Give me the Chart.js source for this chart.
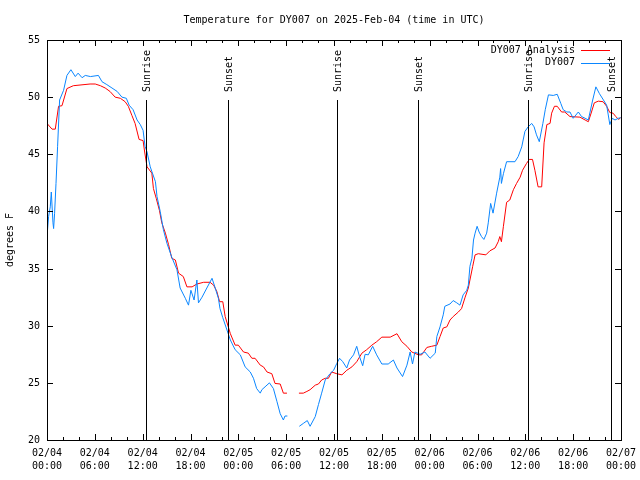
<!DOCTYPE html>
<html>
<head>
<meta charset="utf-8">
<script src="https://cdn.jsdelivr.net/npm/chart.js@4.4.1/dist/chart.umd.min.js"></script>
<style>
  html, body { margin: 0; background: #fff; }
</style>
</head>
<body>
<canvas id="chart" width="640" height="480"></canvas>
<script>
// hours since 02/04 00:00 UTC
const analysisHours = [0.0, 0.63, 1.04, 1.45, 1.88, 2.5, 3.3, 5.4, 6.05, 6.7, 7.3, 7.9, 8.55, 9.2, 9.8,
  10.2, 10.65, 11.05, 11.55, 12.05, 12.25, 12.55, 13.15, 13.35, 13.7, 14.1, 14.4, 14.85, 15.25, 15.65,
  16.1, 16.5, 17.1, 17.55, 18.2, 18.8, 19.65, 20.45, 20.9, 21.3, 21.65, 22.05, 22.35, 23.0, 23.6, 24.0,
  24.65, 25.25, 25.7, 26.1, 26.75, 27.15, 27.6, 28.2, 28.6, 29.25, 29.65, 30.1, 30.8, 31.6, 32.15, 32.6,
  33.0, 33.65, 34.05, 34.45, 34.9, 35.3, 35.7, 36.35, 37.0, 37.6, 38.25, 38.85, 39.5, 40.1, 40.75, 41.35,
  42.0, 43.05, 43.9, 44.5, 45.15, 45.75, 46.6, 47.0, 47.65, 48.25, 48.9, 49.3, 49.7, 50.15, 50.55, 50.95,
  51.6, 52.0, 52.45, 52.85, 53.05, 53.4, 53.7, 54.1, 55.05, 55.55, 56.2, 56.6, 56.8, 57.0, 57.25, 57.65,
  58.05, 58.5, 58.9, 59.35, 59.65, 60.15, 60.5, 60.9, 61.2, 61.6, 62.05, 62.35, 62.7, 63.1, 63.3, 63.65,
  64.0, 64.55, 64.95, 65.6, 66.85, 67.5, 67.9, 68.3, 68.65, 69.15, 69.75, 70.2, 70.6, 71.0, 71.35, 71.7, 71.95];
const analysisTemps = [47.7, 47.2, 47.2, 49.2, 49.25, 50.75, 51.0, 51.15, 51.15, 51.0, 50.8, 50.5, 50.0, 49.9, 49.6,
  49.2, 48.4, 47.7, 46.3, 46.2, 45.2, 43.9, 43.35, 42.0, 41.15, 40.1, 39.0, 38.1, 37.1, 35.9,
  35.75, 34.6, 34.3, 33.4, 33.4, 33.65, 33.8, 33.8, 33.55, 33.0, 32.1, 32.1, 30.8, 29.3, 28.3, 28.3,
  27.7, 27.6, 27.15, 27.15, 26.55, 26.4, 25.95, 25.8, 24.95, 24.9, 24.1, 24.1, null, 24.1, 24.1, 24.25,
  24.4, 24.8, 24.9, 25.25, 25.4, 25.4, 25.95, 25.8, 25.7, 26.1, 26.4, 26.85, 27.6, 27.9, 28.3, 28.6,
  29.0, 29.0, 29.3, 28.6, 28.2, 27.7, 27.45, 27.45, 28.1, 28.2, 28.3, 29.05, 29.8, 29.9, 30.5, 30.8,
  31.2, 31.5, 32.5, 33.3, 34.0, 35.2, 36.2, 36.3, 36.2, 36.55, 36.8, 37.35, 37.8, 37.35, 38.7, 40.8,
  41.0, 41.9, 42.45, 43.0, 43.6, 44.2, 44.55, 44.55, 43.6, 42.15, 42.15, 46.0, 47.6, 47.7, 48.6, 49.2,
  49.2, 48.7, 48.7, 48.3, 48.25, 48.0, 47.85, 48.7, 49.5, 49.65, 49.6, 49.2, 48.65, 48.6, 48.3, 48.05, 48.2];

const stationHours = [0.0, 0.2, 0.41, 0.54, 0.75, 0.83, 0.95, 1.13, 1.33, 1.58, 2.08, 2.5, 3.0, 3.55, 3.9,
  4.4, 4.8, 5.45, 6.45,
  6.9, 7.5, 8.15, 8.8, 9.4, 9.95, 10.3, 10.8, 11.3, 11.7, 12.05, 12.3, 12.55, 12.95, 13.6, 13.8, 14.2,
  14.6, 15.05, 15.65, 16.3, 16.7, 17.35, 17.75, 18.05, 18.45, 18.8, 19.0, 19.45, 20.05, 20.7, 21.1, 21.5,
  21.7, 22.05, 23.0, 23.6, 24.25, 24.85, 25.5, 25.9, 26.3, 26.75, 26.95, 27.35, 27.9, 28.4, 28.85, 29.25,
  29.65, 29.85, 30.15, 30.9, 31.65, 32.15, 32.65, 33.0, 33.65, 34.05, 34.45, 34.9, 35.5, 35.95, 36.35,
  36.7, 37.1, 37.6, 37.95, 38.45, 38.85, 39.2, 39.6, 39.9, 40.3, 40.85, 41.35, 42.0, 42.8, 43.45, 43.9,
  44.6, 45.15, 45.55, 45.85, 46.15, 46.8, 47.4, 48.05, 48.7, 48.9, 49.3, 49.7, 49.9, 50.55, 50.95, 51.4,
  51.8, 52.2, 52.65, 52.85, 53.05, 53.3, 53.5, 53.7, 53.95, 54.2, 54.5, 54.8, 55.15, 55.35, 55.65, 55.95,
  56.4, 56.8, 56.9, 57.0, 57.25, 57.65, 58.7, 59.1, 59.55, 59.95, 60.35, 60.8, 61.1, 61.4, 61.75, 62.2,
  62.5, 62.9, 63.5, 64.0, 64.45, 64.75, 65.2, 65.6, 66.0, 66.65, 67.05, 67.5, 67.9, 68.45, 68.85, 69.3,
  69.8, 70.2, 70.6, 70.9, 71.25, 71.65, 71.95];
const stationTemps = [37.8, 39.55, 40.4, 41.7, 39.0, 38.5, 39.8, 42.45, 45.7, 49.75, 50.6, 51.9, 52.4, 51.8, 52.1,
  51.7, 51.9, 51.8, 51.9,
  51.35, 51.1, 50.8, 50.5, 50.0, 49.9, 49.3, 48.9, 48.0, 47.6, 47.1, 45.7, 45.2, 43.9, 42.6, 41.3, 40.0,
  38.4, 37.2, 36.0, 34.9, 33.3, 32.4, 31.8, 33.1, 32.25, 34.0, 32.0, 32.5, 33.3, 34.15, 33.3, 32.4,
  31.5, 30.7, 28.75, 27.9, 27.45, 26.4, 25.95, 25.4, 24.5, 24.1, 24.4, 24.65, 25.0, 24.5, 23.35, 22.3,
  21.75, 22.1, 22.1, null, 21.2, 21.45, 21.7, 21.2, 22.05, 23.1, 24.1, 25.25, 25.8, 26.1, 26.7,
  27.15, 26.85, 26.3, 27.0, 27.45, 28.2, 27.3, 26.5, 27.5, 27.45, 28.2, 27.45, 26.65, 26.65, 27.0, 26.3,
  25.55, 26.55, 27.7, 26.65, 27.7, 27.5, 27.7, 27.15, 27.6, 29.05, 29.9, 30.95, 31.7, 31.9, 32.2, 32.0,
  31.8, 32.7, 33.1, 33.55, 35.2, 35.9, 37.5, 38.1, 38.7, 38.2, 37.8, 37.55, 38.1, 39.0, 40.7, 39.85,
  41.6, 43.0, 43.75, 42.45, 43.3, 44.35, 44.35, 44.8, 45.65, 47.0, 47.4, 47.7, 47.4, 46.7, 46.1, 47.7,
  48.9, 50.2, 50.15, 50.25, 49.45, 48.9, 48.7, 48.7, 48.15, 48.7, 48.3, 48.15, 48.0, 49.75, 50.9, 50.3,
  49.75, 49.3, 47.6, 48.15, 48.0, 48.15, 48.2];

const sunHours = [12.36, 22.7, 36.43, 46.58, 60.37, 70.7];
const sunLabels = ['Sunrise', 'Sunset', 'Sunrise', 'Sunset', 'Sunrise', 'Sunset'];

const xTickHours = [0, 6, 12, 18, 24, 30, 36, 42, 48, 54, 60, 66, 72];
const xTickDays = ['02/04', '02/04', '02/04', '02/04', '02/05', '02/05', '02/05', '02/05',
  '02/06', '02/06', '02/06', '02/06', '02/07'];
const xTickTimes = ['00:00', '06:00', '12:00', '18:00', '00:00', '06:00', '12:00', '18:00',
  '00:00', '06:00', '12:00', '18:00', '00:00'];
const yTicks = [20, 25, 30, 35, 40, 45, 50, 55];

const FONT = '10px "DejaVu Sans Mono", monospace';
const RED = '#ff0000';
const BLUE = '#0a86ff';

function points(hours, temps) {
  return hours.map((h, i) => ({ x: h, y: temps[i] }));
}

const gnuplotFrame = {
  id: 'gnuplotFrame',
  afterDatasetsDraw(chart) {
    const { ctx, chartArea: a, scales: { x, y } } = chart;
    ctx.save();
    ctx.strokeStyle = '#000';
    ctx.fillStyle = '#000';
    ctx.lineWidth = 1;
    ctx.font = FONT;

    // sunrise / sunset markers
    sunHours.forEach((h, i) => {
      const px = Math.round(x.getPixelForValue(h)) + 0.5;
      const top = a.bottom - 0.85 * (a.bottom - a.top);
      ctx.beginPath();
      ctx.moveTo(px, a.bottom);
      ctx.lineTo(px, top);
      ctx.stroke();
      ctx.save();
      ctx.translate(px + 1, top - 8);
      ctx.rotate(-Math.PI / 2);
      ctx.textAlign = 'left';
      ctx.textBaseline = 'middle';
      ctx.fillText(sunLabels[i], 0, 0);
      ctx.restore();
    });

    // border
    ctx.strokeRect(Math.round(a.left) + 0.5, Math.round(a.top) + 0.5,
      Math.round(a.right - a.left), Math.round(a.bottom - a.top));

    // x ticks (minor every 2 h, major every 6 h), mirrored on top
    for (let h = 0; h <= 72; h += 2) {
      const px = Math.round(x.getPixelForValue(h)) + 0.5;
      const len = h % 6 === 0 ? 6 : 3;
      ctx.beginPath();
      ctx.moveTo(px, a.bottom); ctx.lineTo(px, a.bottom - len);
      ctx.moveTo(px, a.top); ctx.lineTo(px, a.top + len);
      ctx.stroke();
    }
    ctx.textAlign = 'center';
    ctx.textBaseline = 'middle';
    xTickHours.forEach((h, i) => {
      const px = x.getPixelForValue(h);
      ctx.fillText(xTickDays[i], px, a.bottom + 13);
      ctx.fillText(xTickTimes[i], px, a.bottom + 26);
    });

    // y ticks, mirrored on right
    ctx.textAlign = 'right';
    yTicks.forEach(v => {
      const py = Math.round(y.getPixelForValue(v)) + 0.5;
      ctx.beginPath();
      ctx.moveTo(a.left, py); ctx.lineTo(a.left + 6, py);
      ctx.moveTo(a.right, py); ctx.lineTo(a.right - 6, py);
      ctx.stroke();
      ctx.fillText(String(v), a.left - 7, py);
    });

    // axis title
    ctx.save();
    ctx.translate(10, (a.top + a.bottom) / 2);
    ctx.rotate(-Math.PI / 2);
    ctx.textAlign = 'center';
    ctx.fillText('degrees F', 0, 0);
    ctx.restore();

    // title
    ctx.textAlign = 'center';
    ctx.fillText('Temperature for DY007 on 2025-Feb-04 (time in UTC)', (a.left + a.right) / 2, 20);

    // legend
    const entries = [['DY007 Analysis', RED], ['DY007', BLUE]];
    entries.forEach(([label, color], i) => {
      const ly = a.top + 10 + i * 12.5;
      ctx.fillStyle = '#000';
      ctx.textAlign = 'right';
      ctx.fillText(label, 575, ly);
      ctx.strokeStyle = color;
      ctx.beginPath();
      ctx.moveTo(581, Math.round(ly) + 0.5);
      ctx.lineTo(610, Math.round(ly) + 0.5);
      ctx.stroke();
    });
    ctx.restore();
  }
};

new Chart(document.getElementById('chart'), {
  type: 'line',
  data: {
    datasets: [
      {
        label: 'DY007 Analysis',
        data: points(analysisHours, analysisTemps),
        borderColor: RED,
        borderWidth: 1,
        pointRadius: 0,
        tension: 0,
        spanGaps: false,
        order: 1
      },
      {
        label: 'DY007',
        data: points(stationHours, stationTemps),
        borderColor: BLUE,
        borderWidth: 1,
        pointRadius: 0,
        tension: 0,
        spanGaps: false,
        order: 0
      }
    ]
  },
  options: {
    responsive: false,
    animation: false,
    layout: { padding: { left: 47, right: 19, top: 40, bottom: 40 } },
    plugins: {
      legend: { display: false },
      title: { display: false },
      tooltip: { enabled: false }
    },
    scales: {
      x: { type: 'linear', min: 0, max: 72, display: false },
      y: { type: 'linear', min: 20, max: 55, display: false }
    }
  },
  plugins: [gnuplotFrame]
});
</script>
</body>
</html>
